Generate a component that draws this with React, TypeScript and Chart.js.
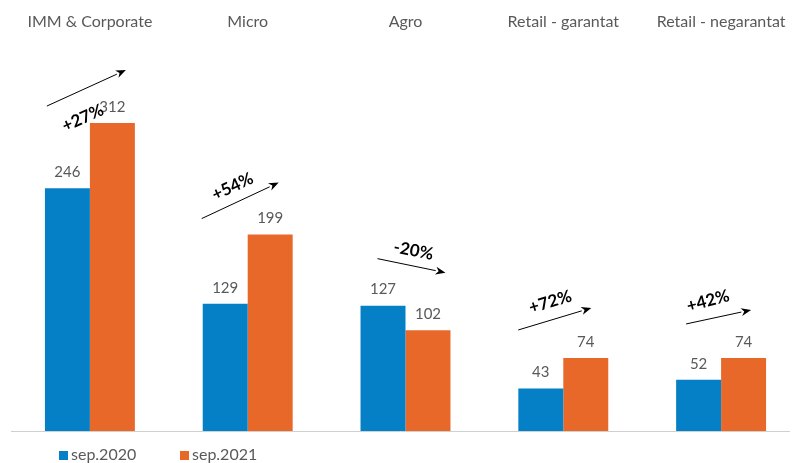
import React, { useEffect, useRef } from "react";
import { Chart, registerables } from "chart.js";

Chart.register(...registerables);

const categories = ["IMM & Corporate", "Micro", "Agro", "Retail - garantat", "Retail - negarantat"];
const sep2020 = [246, 129, 127, 43, 52];
const sep2021 = [312, 199, 102, 74, 74];
const changeLabels = ["+27%", "+54%", "-20%", "+72%", "+42%"];
const seriesNames = ["sep.2020", "sep.2021"];

const BLUE = "#0580C6";
const ORANGE = "#E8682A";
const GRAY = "#595959";
const FONT = "Lato, 'Open Sans', sans-serif";

// arrow geometry: offsets in px relative to category center & top of tallest bar
const arrowStyles = [
  { sx: -43, sy: -17, ex: 36, ey: -53, tx: -7, ty: -5, rot: -24 },
  { sx: -46, sy: -16, ex: 31, ey: -52, tx: -15, ty: -48, rot: -25 },
  { sx: -28, sy: -47, ex: 40, ey: -33, tx: 8, ty: -55, rot: 11 },
  { sx: -45, sy: -28, ex: 28, ey: -50, tx: -13, ty: -56, rot: -17 },
  { sx: -35, sy: -34, ex: 30, ey: -48, tx: -13, ty: -57, rot: -15 },
];

const overlayPlugin = {
  id: "overlay",
  afterDatasetsDraw(chart: any) {
    const ctx = chart.ctx;
    const area = chart.chartArea;
    const yScale = chart.scales.y;
    const xScale = chart.scales.x;
    ctx.save();
    // baseline
    const y0 = yScale.getPixelForValue(0);
    ctx.strokeStyle = "#D0D0D0";
    ctx.lineWidth = 1;
    ctx.beginPath();
    ctx.moveTo(area.left, y0 + 0.5);
    ctx.lineTo(790, y0 + 0.5);
    ctx.stroke();

    // value labels
    ctx.fillStyle = GRAY;
    ctx.font = `15px ${FONT}`;
    ctx.textAlign = "center";
    ctx.textBaseline = "middle";
    chart.data.datasets.forEach((ds: any, di: number) => {
      const meta = chart.getDatasetMeta(di);
      meta.data.forEach((bar: any, i: number) => {
        ctx.fillText(String(ds.data[i]), bar.x, bar.y - 16);
      });
    });

    // arrows + change labels
    categories.forEach((_, i) => {
      const cx = xScale.getPixelForValue(i);
      const top = yScale.getPixelForValue(Math.max(sep2020[i], sep2021[i]));
      const s = arrowStyles[i];
      const x1 = cx + s.sx, y1 = top + s.sy, x2 = cx + s.ex, y2 = top + s.ey;
      const ang = Math.atan2(y2 - y1, x2 - x1);
      const hl = 10, hw = 4;
      const bx = x2 - hl * Math.cos(ang), by = y2 - hl * Math.sin(ang);
      ctx.strokeStyle = "#000";
      ctx.lineWidth = 1;
      ctx.beginPath();
      ctx.moveTo(x1, y1);
      ctx.lineTo(bx, by);
      ctx.stroke();
      ctx.fillStyle = "#000";
      ctx.beginPath();
      ctx.moveTo(x2, y2);
      ctx.lineTo(bx - hw * Math.sin(ang), by + hw * Math.cos(ang));
      ctx.lineTo(bx + 3 * Math.cos(ang), by + 3 * Math.sin(ang));
      ctx.lineTo(bx + hw * Math.sin(ang), by - hw * Math.cos(ang));
      ctx.closePath();
      ctx.fill();

      ctx.save();
      ctx.translate(cx + s.tx, top + s.ty);
      ctx.rotate((s.rot * Math.PI) / 180);
      ctx.font = `bold 17px ${FONT}`;
      ctx.textAlign = "center";
      ctx.textBaseline = "middle";
      ctx.fillText(changeLabels[i], 0, 0);
      ctx.restore();
    });

    // legend
    const ly = 455;
    const items = [
      { x: 59, color: BLUE, text: seriesNames[0] },
      { x: 180, color: ORANGE, text: seriesNames[1] },
    ];
    ctx.font = `16px ${FONT}`;
    ctx.textAlign = "left";
    ctx.textBaseline = "middle";
    items.forEach((it) => {
      ctx.fillStyle = it.color;
      ctx.fillRect(it.x, ly - 4, 9, 9);
      ctx.fillStyle = GRAY;
      ctx.fillText(it.text, it.x + 12, ly);
    });
    ctx.restore();
  },
};

export default function App() {
  const ref = useRef<HTMLCanvasElement>(null);
  useEffect(() => {
    if (!ref.current) return;
    const chart = new Chart(ref.current, {
      type: "bar",
      data: {
        labels: categories,
        datasets: [
          { label: seriesNames[0], data: sep2020, backgroundColor: BLUE },
          { label: seriesNames[1], data: sep2021, backgroundColor: ORANGE },
        ],
      },
      options: {
        animation: false,
        responsive: false,
        maintainAspectRatio: false,
        layout: { padding: { left: 11, right: 0, top: 8, bottom: 32 } },
        datasets: { bar: { categoryPercentage: 0.57, barPercentage: 1 } },
        plugins: { legend: { display: false }, tooltip: { enabled: false } },
        scales: {
          x: {
            position: "top",
            grid: { display: false, drawTicks: false },
            border: { display: false },
            ticks: { color: GRAY, font: { family: FONT, size: 16 }, padding: 4, maxRotation: 0 },
          },
          y: {
            display: false,
            min: 0,
            max: 401,
          },
        },
      },
      plugins: [overlayPlugin],
    });
    return () => chart.destroy();
  }, []);
  return (
    <div style={{ position: "fixed", left: 0, top: 0, width: 792, height: 463, overflow: "hidden", background: "#fff" }}>
      <canvas ref={ref} width={800} height={463} style={{ width: 800, height: 463 }} />
    </div>
  );
}
